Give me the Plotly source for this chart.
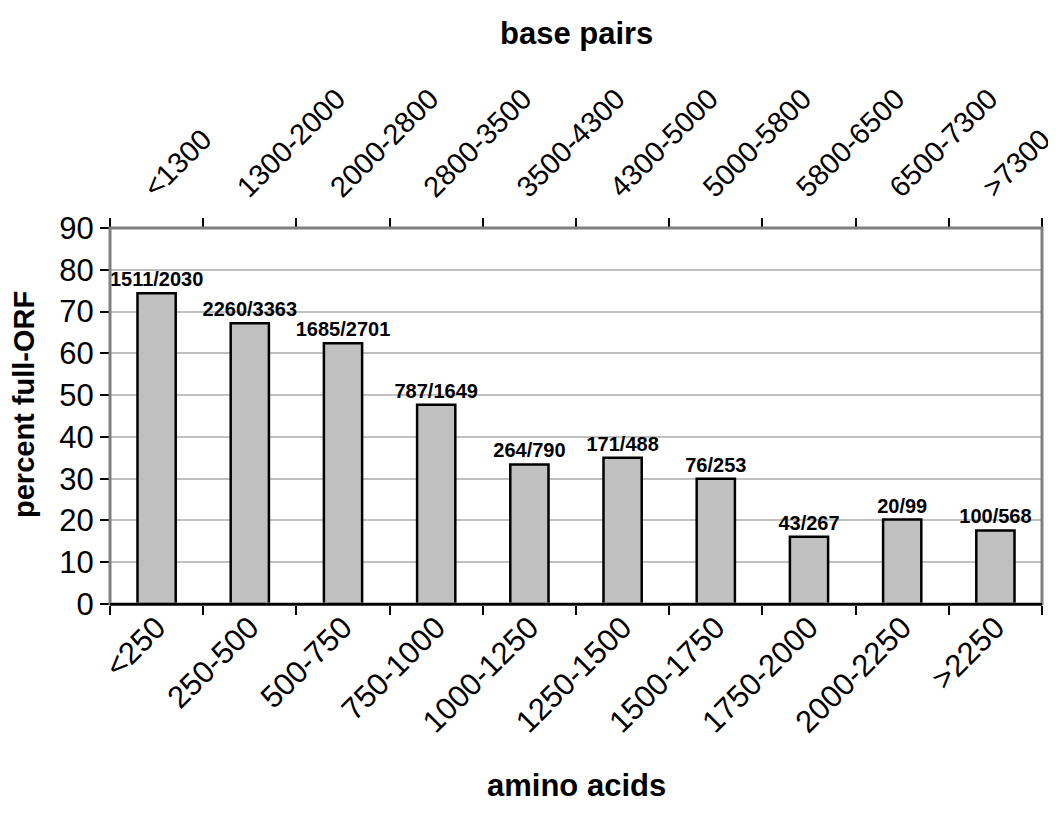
import plotly.graph_objects as go

aa_labels = ["<250", "250-500", "500-750", "750-1000", "1000-1250", "1250-1500",
             "1500-1750", "1750-2000", "2000-2250", ">2250"]
bp_labels = ["<1300", "1300-2000", "2000-2800", "2800-3500", "3500-4300", "4300-5000",
             "5000-5800", "5800-6500", "6500-7300", ">7300"]
percent = [74.4, 67.2, 62.4, 47.7, 33.4, 35.0, 30.0, 16.1, 20.2, 17.6]
counts = ["1511/2030", "2260/3363", "1685/2701", "787/1649", "264/790", "171/488",
          "76/253", "43/267", "20/99", "100/568"]
y_ticks = [0, 10, 20, 30, 40, 50, 60, 70, 80, 90]

FONT = "Liberation Sans, Arial, sans-serif"

fig = go.Figure()
fig.add_trace(go.Bar(
    x=aa_labels, y=percent,
    text=["<b>" + c + "</b>" for c in counts],
    textposition="outside", constraintext="none", cliponaxis=False,
    textfont=dict(family=FONT, size=20, color="black"),
    marker=dict(color="#c0c0c0", line=dict(color="black", width=2.5)),
    width=0.41, showlegend=False, hoverinfo="skip",
))
fig.add_trace(go.Scatter(
    x=bp_labels, y=percent, xaxis="x2", mode="markers",
    marker=dict(opacity=0), showlegend=False, hoverinfo="skip",
))

fig.update_layout(
    width=1048, height=810,
    margin=dict(l=102, r=14, t=220, b=214, autoexpand=False),
    paper_bgcolor="white", plot_bgcolor="white",
    font=dict(family=FONT, color="black"),
    xaxis=dict(
        type="category", categoryarray=aa_labels, range=[-0.5, 9.5], automargin=False,
        tickson="boundaries", ticks="outside", ticklen=9, tickwidth=2, tickcolor="black",
        tickangle=-45, tickfont=dict(size=31, family=FONT), ticklabelstandoff=-9,
        showline=True, linecolor="black", linewidth=2, showgrid=False, zeroline=False,
    ),
    xaxis2=dict(
        type="category", categoryarray=bp_labels, range=[-0.5, 9.5], automargin=False,
        overlaying="x", side="top", anchor="y",
        tickson="boundaries", ticks="outside", ticklen=9, tickwidth=2, tickcolor="black",
        tickangle=-45, tickfont=dict(size=29, family=FONT),
        ticklabelstandoff=18, ticklabelshift=-11,
        showline=False, showgrid=False, zeroline=False,
    ),
    yaxis=dict(
        range=[0, 90], tickvals=y_ticks, ticks="outside", ticklen=9, tickwidth=2,
        tickcolor="black", tickfont=dict(size=31, family=FONT), automargin=False,
        showgrid=True, gridcolor="#c0c0c0", gridwidth=1.5, zeroline=False,
        showline=False,
    ),
    shapes=[
        dict(type="rect", xref="paper", yref="paper", x0=0, x1=1, y0=0, y1=1,
             line=dict(color="#808080", width=3), layer="above"),
        dict(type="line", xref="paper", yref="paper", x0=0, x1=1, y0=0, y1=0,
             line=dict(color="black", width=2), layer="above"),
    ],
    annotations=[
        dict(text="<b>base pairs</b>", xref="paper", yref="paper", x=0.5, y=1,
             yshift=228 - 33, showarrow=False, font=dict(size=31, family=FONT),
             xanchor="center", yanchor="middle"),
        dict(text="<b>amino acids</b>", xref="paper", yref="paper", x=0.5, y=0,
             yshift=-(785 - 604), showarrow=False, font=dict(size=31, family=FONT),
             xanchor="center", yanchor="middle"),
        dict(text="<b>percent full-ORF</b>", xref="paper", yref="paper", x=0, y=0.5,
             xshift=-(110 - 24), yshift=-(405 - 416), showarrow=False, textangle=-90,
             font=dict(size=29, family=FONT), xanchor="center", yanchor="middle"),
    ],
)

fig.write_html("out.html")
